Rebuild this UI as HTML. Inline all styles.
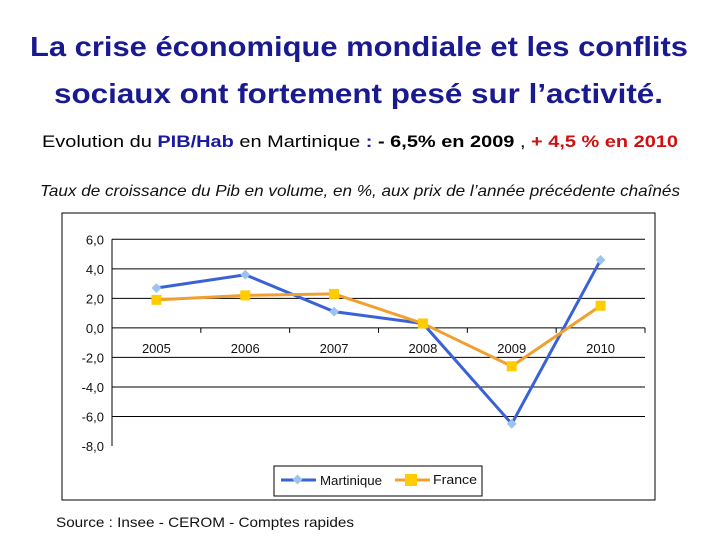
<!DOCTYPE html>
<html><head><meta charset="utf-8"><style>
body{margin:0;background:#fff;width:720px;height:540px;overflow:hidden}
svg{display:block}
</style></head><body>
<svg width="720" height="540" font-family="Liberation Sans, sans-serif">
<text x="30" y="56" font-size="28" font-weight="bold" fill="#1a1a90" textLength="658" lengthAdjust="spacingAndGlyphs">La crise économique mondiale et les conflits</text>
<text x="54" y="103" font-size="28" font-weight="bold" fill="#1a1a90" textLength="609" lengthAdjust="spacingAndGlyphs">sociaux ont fortement pesé sur l’activité.</text>
<text x="42" y="147" font-size="17" textLength="636" lengthAdjust="spacingAndGlyphs" fill="#000">Evolution du <tspan fill="#1a1aa0" font-weight="bold">PIB/Hab</tspan> en Martinique <tspan fill="#1a1aa0" font-weight="bold">:</tspan> <tspan font-weight="bold">- 6,5% en 2009</tspan> , <tspan fill="#d01010" font-weight="bold">+ 4,5 % en 2010</tspan></text>
<text x="40" y="196" font-size="16" font-style="italic" fill="#111" textLength="640" lengthAdjust="spacingAndGlyphs">Taux de croissance du Pib en volume, en %, aux prix de l’année précédente chaînés</text>
<rect x="62" y="213" width="593" height="287" fill="none" stroke="#000" stroke-width="1"/>
<g id="chart"></g>
<g>
<rect x="274" y="466" width="208" height="30" fill="#fff" stroke="#000" stroke-width="1"/>
<line x1="281" y1="480" x2="316" y2="480" stroke="#3a62d6" stroke-width="3"/>
<rect x="294" y="476" width="7" height="7" fill="#9cc4ee" transform="rotate(45 297.5 479.5)"/>
<text x="320" y="485" font-size="13" fill="#111" textLength="62" lengthAdjust="spacingAndGlyphs">Martinique</text>
<line x1="395" y1="480" x2="430" y2="480" stroke="#f0a030" stroke-width="3"/>
<rect x="405" y="474" width="12" height="12" fill="#ffcc00"/>
<text x="433" y="484" font-size="13" fill="#111" textLength="44" lengthAdjust="spacingAndGlyphs">France</text>
</g>
<text x="56" y="527" font-size="14" fill="#111" textLength="298" lengthAdjust="spacingAndGlyphs">Source : Insee - CEROM - Comptes rapides</text>
</svg>
<script>
const categories=["2005","2006","2007","2008","2009","2010"];
const martinique=[2.7,3.6,1.1,0.3,-6.5,4.6];
const france=[1.9,2.2,2.3,0.3,-2.6,1.5];
const yTicks=[6,4,2,0,-2,-4,-6,-8];
const yTickLabels=["6,0","4,0","2,0","0,0","-2,0","-4,0","-6,0","-8,0"];
const NS="http://www.w3.org/2000/svg";
const g=document.getElementById('chart');
const L=112,R=645,T=239.3,B=446;
const yMin=-8,yMax=6;
function y(v){return B-(v-yMin)/(yMax-yMin)*(B-T);}
const step=(R-L)/categories.length;
function x(i){return L+step*(i+0.5);}
function mk(t,a){const e=document.createElementNS(NS,t);for(const k in a)e.setAttribute(k,a[k]);g.appendChild(e);return e;}
yTicks.forEach((v,i)=>{
 if(v!==yMin){const l=mk('line',{x1:L,x2:R,y1:y(v),y2:y(v),stroke:'#000','stroke-width':1});
 
 }
 const t=mk('text',{x:L-8,y:y(v)+5,'text-anchor':'end','font-size':13,fill:'#111'});t.textContent=yTickLabels[i];
 
 
});
const ax=mk('line',{x1:L,x2:L,y1:T,y2:B,stroke:'#000'});


for(let i=0;i<=categories.length;i++){const tk=mk('line',{x1:L+step*i,x2:L+step*i,y1:y(0),y2:y(0)+5,stroke:'#000'});
 
 }
categories.forEach((c,i)=>{const t=mk('text',{x:x(i),y:y(0)+25,'text-anchor':'middle','font-size':13,fill:'#111'});t.textContent=c;
 
 });
function series(vals,color,name,marker){
 const p=mk('polyline',{points:vals.map((v,i)=>x(i)+','+y(v)).join(' '),fill:'none',stroke:color,'stroke-width':3});
 
 
 vals.forEach((v,i)=>{let m;
  if(marker==='d'){m=mk('rect',{x:x(i)-3.5,y:y(v)-3.5,width:7,height:7,fill:'#9cc4ee',transform:`rotate(45 ${x(i)} ${y(v)})`});}
  else{m=mk('rect',{x:x(i)-5,y:y(v)-5,width:10,height:10,fill:'#ffcc00'});}
  
  
 });
}
series(martinique,'#3a62d6','martinique','d');
series(france,'#f0a030','france','s');
</script>
</body></html>
